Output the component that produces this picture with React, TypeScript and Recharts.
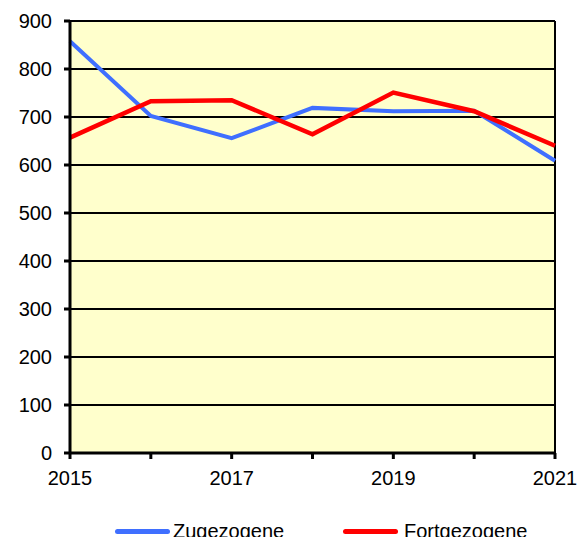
import React from 'react';
import { LineChart, Line, XAxis, YAxis, CartesianGrid, ReferenceLine } from 'recharts';

const years = [2015, 2016, 2017, 2018, 2019, 2020, 2021];
const zugezogene = [858, 702, 656, 719, 712, 713, 609];
const fortgezogene = [657, 733, 735, 664, 751, 712, 640];
const yTicks = [0, 100, 200, 300, 400, 500, 600, 700, 800, 900];
const seriesNames = ['Zugezogene', 'Fortgezogene'];
const colors = ['#3F6FFF', '#FF0000'];

const data = years.map((y, i) => ({ year: y, zu: zugezogene[i], fort: fortgezogene[i] }));

const FONT = '"Liberation Sans", Arial, sans-serif';

export default function App() {
  return (
    <div style={{ position: 'relative', width: 580, height: 529, fontFamily: FONT }}>
      <LineChart width={580} height={485} data={data} margin={{ top: 13, right: 33, bottom: 0, left: 0 }}>
        <CartesianGrid fill="#FFFFCC" stroke="#000" strokeWidth={2} vertical={false} horizontalValues={yTicks} />
        <XAxis
          dataKey="year"
          type="number"
          domain={[2015, 2021]}
          ticks={years}
          interval={0}
          height={40}
          tickFormatter={(v: number) => (v % 2 === 1 ? String(v) : '')}
          axisLine={{ stroke: '#000', strokeWidth: 3 }}
          tickLine={{ stroke: '#000', strokeWidth: 3 }}
          tickSize={6}
          tickMargin={12}
          tick={{ fill: '#000', fontSize: 20, fontFamily: FONT }}
        />
        <YAxis
          type="number"
          domain={[0, 900]}
          ticks={yTicks}
          interval={0}
          width={62}
          axisLine={{ stroke: '#000', strokeWidth: 3 }}
          tickLine={{ stroke: '#000', strokeWidth: 3 }}
          tickSize={6}
          tickMargin={12}
          tick={{ fill: '#000', fontSize: 20, fontFamily: FONT }}
        />
        <ReferenceLine x={2021} stroke="#000" strokeWidth={2} ifOverflow="visible" />
        <Line dataKey="zu" name={seriesNames[0]} stroke={colors[0]} strokeWidth={4} dot={false} isAnimationActive={false} />
        <Line dataKey="fort" name={seriesNames[1]} stroke={colors[1]} strokeWidth={4.5} dot={false} isAnimationActive={false} />
      </LineChart>
      {seriesNames.map((n, i) => (
        <div key={n} style={{ position: 'absolute', left: i === 0 ? 107 : 335, top: 511, height: 24, display: 'flex', alignItems: 'center', whiteSpace: 'nowrap' }}>
          <div style={{ width: 55, height: 5, borderRadius: 3, background: colors[i], marginRight: 3 }} />
          <span style={{ fontSize: 20, color: '#000', lineHeight: '24px', marginLeft: i === 0 ? 0 : 3 }}>{n}</span>
        </div>
      ))}
    </div>
  );
}
